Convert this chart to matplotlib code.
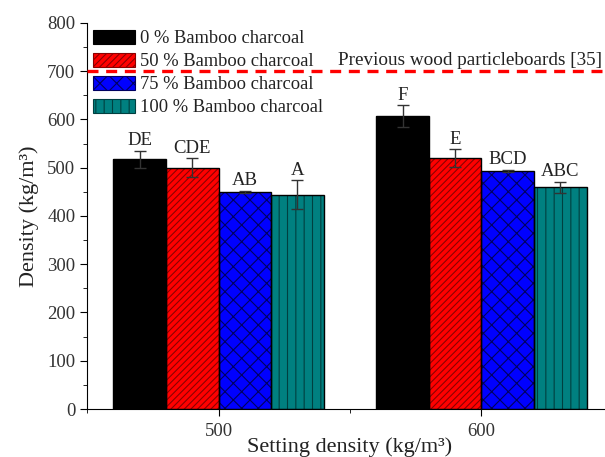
import matplotlib
matplotlib.use('Agg')
import matplotlib.pyplot as plt
from matplotlib.patches import Patch
from matplotlib.ticker import MultipleLocator

plt.rcParams['font.family'] = ['Liberation Serif', 'DejaVu Serif']
plt.rcParams['hatch.linewidth'] = 0.8

# data
setting_density = [500, 600]
series_labels = ['0 % Bamboo charcoal', '50 % Bamboo charcoal',
                 '75 % Bamboo charcoal', '100 % Bamboo charcoal']
density = [[517, 607], [500, 520], [450, 494], [444, 459]]
density_err = [[18, 22], [20, 18], [2, 2], [30, 12]]
letters = [['DE', 'F'], ['CDE', 'E'], ['AB', 'BCD'], ['A', 'ABC']]
reference_value = 700
reference_label = 'Previous wood particleboards [35]'

colors = ['#000000', '#ff0000', '#0000ff', '#008080']
hatch_colors = ['#000000', '#8b0000', '#000060', '#004040']
hatches = [None, '/////', 'xx', '||']

fig = plt.figure(figsize=(6.05, 4.57), dpi=100)
ax = fig.add_axes([0.144, 0.105, 0.869, 0.845])

bw = 20
offsets = [-30, -10, 10, 30]
for i in range(4):
    xs = [x + offsets[i] for x in setting_density]
    ax.bar(xs, density[i], width=bw, color=colors[i], edgecolor=hatch_colors[i],
           hatch=hatches[i], linewidth=0, zorder=2)
    ax.bar(xs, density[i], width=bw, fill=False, edgecolor='black', linewidth=1, zorder=3)
    ax.errorbar(xs, density[i], yerr=density_err[i], fmt='none', ecolor='#333333',
                elinewidth=1, capsize=4, capthick=1, zorder=4)
    for x, v, e, t in zip(xs, density[i], density_err[i], letters[i]):
        ax.text(x, v + e + 3, t, ha='center', va='bottom', fontsize=13.5, color='#222222')

ax.axhline(reference_value, color='red', linestyle=(0, (3.3, 2.3)), linewidth=2.4, zorder=5)
ax.text(646, reference_value + 5, reference_label, ha='right', va='bottom', fontsize=13.8,
        color='#222222')

ax.set_xlim(450, 650)
ax.set_ylim(0, 800)
ax.set_xticks(setting_density)
ax.xaxis.set_minor_locator(MultipleLocator(50))
ax.yaxis.set_major_locator(MultipleLocator(100))
ax.yaxis.set_minor_locator(MultipleLocator(50))
ax.tick_params(which='both', direction='out', labelsize=13.5, labelcolor='#333333')
ax.tick_params(which='major', length=5)
ax.tick_params(which='minor', length=3)
ax.tick_params(axis='x', pad=5)
ax.spines['top'].set_visible(False)
ax.spines['right'].set_visible(False)
ax.set_xlabel('Setting density (kg/m³)', fontsize=16, labelpad=-2, color='#222222')
ax.set_ylabel('Density (kg/m³)', fontsize=16, labelpad=6, color='#222222')

handles = [Patch(facecolor=colors[i], edgecolor=hatch_colors[i], hatch=hatches[i],
                 label=series_labels[i]) for i in range(4)]
leg = ax.legend(handles=handles, loc='upper left', bbox_to_anchor=(-0.002, 1.0), frameon=False,
                fontsize=13.3, handlelength=2.3, handleheight=0.8, handletextpad=0.27,
                labelspacing=0.3, borderaxespad=0, borderpad=0.37)
for p in leg.get_patches():
    p.set_linewidth(0.8)
for t in leg.get_texts():
    t.set_color('#222222')

fig.savefig('out.png', dpi=100)
